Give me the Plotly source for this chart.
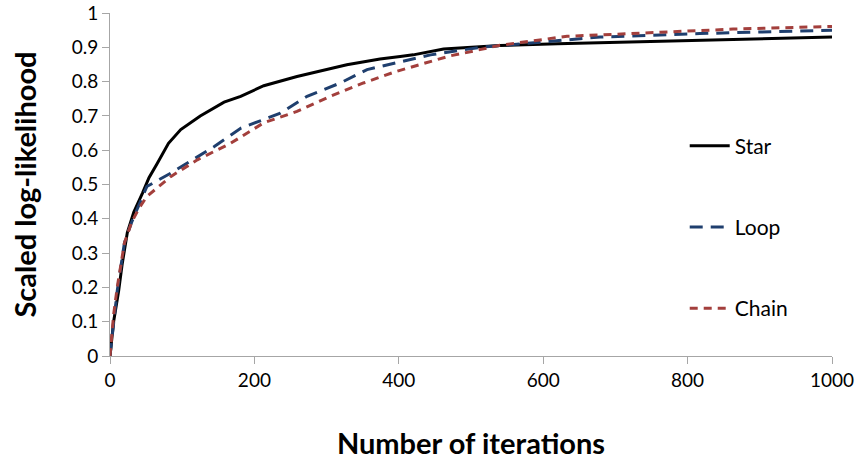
import plotly.graph_objects as go

star_x = [0, 5, 12, 17, 24, 33, 45, 54, 65, 81, 98, 125, 158, 181, 213, 259, 328, 374, 402, 420, 462, 513, 540, 620, 707, 794, 863, 1000]
star_y = [0, 0.1, 0.19, 0.27, 0.36, 0.42, 0.475, 0.52, 0.56, 0.62, 0.66, 0.70, 0.74, 0.757, 0.788, 0.815, 0.849, 0.866, 0.873, 0.878, 0.895, 0.902, 0.905, 0.91, 0.915, 0.92, 0.924, 0.93]

loop_x = [0, 5, 10, 20, 30, 40, 51, 84, 107, 144, 181, 218, 236, 273, 319, 356, 397, 444, 513, 540, 600, 679, 817, 956, 1000]
loop_y = [0, 0.1, 0.19, 0.33, 0.39, 0.44, 0.494, 0.533, 0.563, 0.61, 0.664, 0.694, 0.708, 0.757, 0.796, 0.835, 0.854, 0.878, 0.9, 0.905, 0.915, 0.93, 0.94, 0.949, 0.95]

chain_x = [0, 5, 10, 20, 30, 40, 51, 84, 121, 167, 213, 259, 305, 351, 397, 444, 471, 490, 540, 633, 725, 863, 1000]
chain_y = [0, 0.12, 0.2, 0.33, 0.39, 0.43, 0.465, 0.523, 0.572, 0.62, 0.68, 0.713, 0.757, 0.796, 0.83, 0.859, 0.875, 0.883, 0.906, 0.932, 0.94, 0.953, 0.961]

x_ticks = [0, 200, 400, 600, 800, 1000]
y_ticks = [0, 0.1, 0.2, 0.3, 0.4, 0.5, 0.6, 0.7, 0.8, 0.9, 1]
y_tick_text = ["0", "0.1", "0.2", "0.3", "0.4", "0.5", "0.6", "0.7", "0.8", "0.9", "1"]

FONT = "Lato, Open Sans, sans-serif"

fig = go.Figure()
fig.add_trace(go.Scatter(x=star_x, y=star_y, mode="lines", name="Star", legendgroup="a",
                         line=dict(color="#000000", width=3)))
fig.add_trace(go.Scatter(x=loop_x, y=loop_y, mode="lines", name="Loop", legendgroup="b",
                         line=dict(color="#1F3F6E", width=3, dash="13px,8px")))
fig.add_trace(go.Scatter(x=chain_x, y=chain_y, mode="lines", name="Chain", legendgroup="c",
                         line=dict(color="#A33F3C", width=3, dash="8px,6px")))

fig.update_layout(
    width=860, height=460,
    margin=dict(l=110, r=28, t=13, b=104, autoexpand=False),
    paper_bgcolor="white", plot_bgcolor="white",
    font=dict(family=FONT, size=19, color="#000000"),
    showlegend=True,
    legend=dict(x=0.796, y=0.672, xanchor="left", yanchor="top",
                tracegroupgap=51, font=dict(size=21, family=FONT),
                bgcolor="rgba(0,0,0,0)", itemwidth=40),
    xaxis=dict(range=[0, 1000], tickvals=x_ticks, showgrid=False, zeroline=False,
               showline=True, linecolor="#A6A6A6", linewidth=1, automargin=False,
               ticks="outside", ticklen=7, tickcolor="#A6A6A6",
               tickfont=dict(size=19, family=FONT),
               title=dict(text="<b>Number of iterations</b>", font=dict(size=29, family=FONT), standoff=44)),
    yaxis=dict(range=[0, 1], tickvals=y_ticks, ticktext=y_tick_text, showgrid=False, zeroline=False,
               showline=True, linecolor="#A6A6A6", linewidth=1, automargin=False,
               ticks="outside", ticklen=7, tickcolor="#A6A6A6",
               tickfont=dict(size=19, family=FONT),
               title=dict(text="<b>Scaled log-likelihood</b>", font=dict(size=29, family=FONT), standoff=26)),
)

fig.write_html("out.html", config={"displayModeBar": False},
               post_script="document.body.style.margin='0';")
